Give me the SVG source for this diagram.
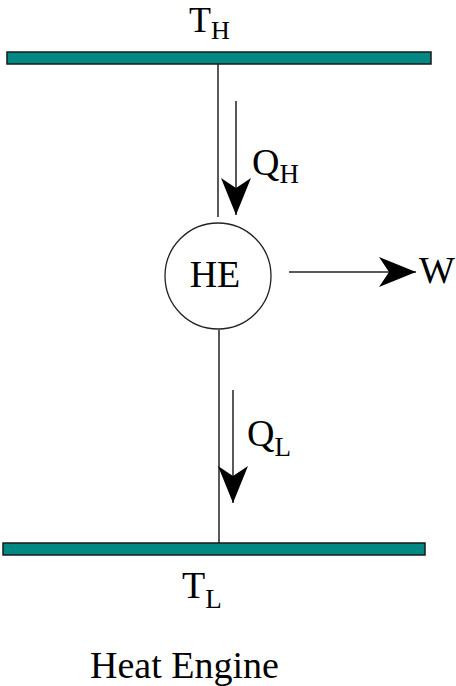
<svg xmlns="http://www.w3.org/2000/svg" width="456" height="686" viewBox="0 0 456 686">
<style>
.bar{fill:#008882;stroke:#1a1a1a;stroke-width:1.5}
.ln{stroke:#222;stroke-width:1.5;fill:none}
.t{font-family:'Liberation Serif','Times New Roman',Tinos,'DejaVu Serif',serif;font-size:38px;fill:#000}
.s{font-size:27px}
</style>
<defs>
<marker id="ah" markerUnits="userSpaceOnUse" markerWidth="40" markerHeight="32" refX="37" refY="15" orient="auto" viewBox="0 0 40 32">
<path d="M0,0 L37,15 L0,30 L10,15 Z" fill="#000"/>
</marker>
</defs>
<rect width="456" height="686" fill="#fff"/>
<g id="hot">
<rect class="bar" x="7" y="52" width="424" height="12"/>
<text class="t" x="189" y="32" style="font-size:36px">T<tspan class="s" dy="7" style="font-size:26px">H</tspan></text>
</g>
<g id="cold">
<rect class="bar" x="3" y="543" width="422" height="12"/>
<text class="t" x="182" y="598">T<tspan class="s" dy="10">L</tspan></text>
</g>
<g id="engine">
<circle cx="218" cy="276" r="53" fill="#fff" stroke="#222" stroke-width="1.3"/>
<text class="t" x="215" y="287" text-anchor="middle">HE</text>
</g>
<g id="work">
<text class="t" x="419" y="283">W</text>
</g>
<g id="connectors">
<line class="ln" x1="218" y1="64" x2="218" y2="217"/>
<line class="ln" x1="219" y1="330" x2="219" y2="543"/>
<line class="ln" x1="236" y1="101" x2="236" y2="215" marker-end="url(#ah)"/>
<line class="ln" x1="233" y1="390" x2="233" y2="503" marker-end="url(#ah)"/>
<line class="ln" x1="289" y1="272" x2="416" y2="272" marker-end="url(#ah)"/>
<text class="t" x="252" y="175">Q<tspan class="s" dy="8">H</tspan></text>
<text class="t" x="247" y="446">Q<tspan class="s" dy="10">L</tspan></text>
</g>
<g id="caption">
<text class="t" x="90" y="678">Heat Engine</text>
</g>
</svg>
